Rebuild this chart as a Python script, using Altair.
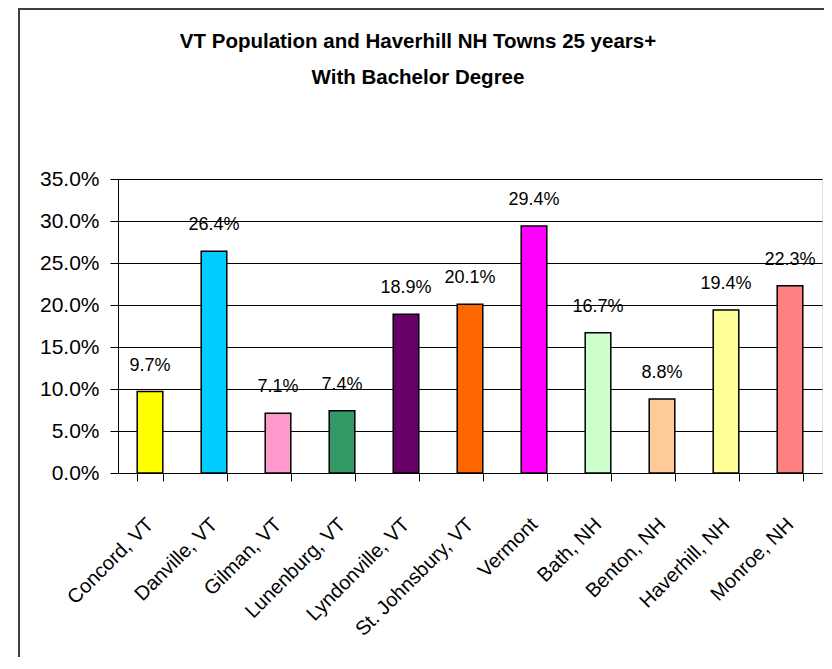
import altair as alt
import pandas as pd

towns = ["Concord, VT", "Danville, VT", "Gilman, VT", "Lunenburg, VT", "Lyndonville, VT",
         "St. Johnsbury, VT", "Vermont", "Bath, NH", "Benton, NH", "Haverhill, NH", "Monroe, NH"]
shares = [0.097, 0.264, 0.071, 0.074, 0.189, 0.201, 0.294, 0.167, 0.088, 0.194, 0.223]
colors = ["#FFFF00", "#00CCFF", "#FF99CC", "#339966", "#660066", "#FF6600",
          "#FF00FF", "#CCFFCC", "#FFCC99", "#FFFF99", "#FF8080"]
title_lines = ["VT Population and Haverhill NH Towns 25 years+", "With Bachelor Degree"]
y_ticks = [0, 0.05, 0.10, 0.15, 0.20, 0.25, 0.30, 0.35]

FONT = "Liberation Sans"

df = pd.DataFrame({"town": towns, "share": shares, "color": colors})

x_enc = alt.X(
    "town:N", sort=towns,
    scale=alt.Scale(paddingInner=0.6, paddingOuter=0.3),
    axis=alt.Axis(title=None, labelAngle=-45, labelAlign="right", labelBaseline="middle",
                  tickBand="extent", tickSize=8, labelPadding=40, labelFont=FONT,
                  labelFontSize=20, labelColor="black", domainColor="black",
                  tickColor="black", grid=False),
)
y_enc = alt.Y(
    "share:Q",
    scale=alt.Scale(domain=[0, 0.35], nice=False),
    axis=alt.Axis(title=None, format=".1%", values=y_ticks, tickSize=8, labelPadding=11,
                  labelFont=FONT, labelFontSize=21, labelColor="black",
                  domainColor="black", tickColor="black", grid=True,
                  gridColor="black", gridOpacity=1),
)

bars = alt.Chart(df).mark_bar(stroke="black", strokeWidth=1.5).encode(
    x=x_enc, y=y_enc, color=alt.Color("color:N", scale=None)
)

labels = alt.Chart(df).mark_text(
    dy=-26, font=FONT, fontSize=18, color="black"
).encode(
    x=alt.X("town:N", sort=towns), y="share:Q", text=alt.Text("share:Q", format=".1%")
)

frame = alt.Chart(alt.Data(values=[{}])).mark_rect(
    fill=None, stroke="#404040", strokeWidth=2
).encode(
    x=alt.value(-99), x2=alt.value(800), y=alt.value(-170), y2=alt.value(600)
)

chart = alt.layer(frame, bars, labels).properties(
    width=704, height=294,
    title=alt.TitleParams(title_lines, font=FONT, fontSize=20.5, fontWeight="bold",
                          color="black", anchor="middle", dx=-52, offset=-80,
                          lineHeight=36),
    autosize=alt.AutoSizeParams(type="none"),
    padding={"left": 110, "top": 171, "right": 2, "bottom": 184},
).configure_view(
    fill="#C0C0C0", stroke="black", strokeWidth=1
).configure(background="white")

chart.save("out.html", embed_options={"renderer": "svg", "actions": False})
